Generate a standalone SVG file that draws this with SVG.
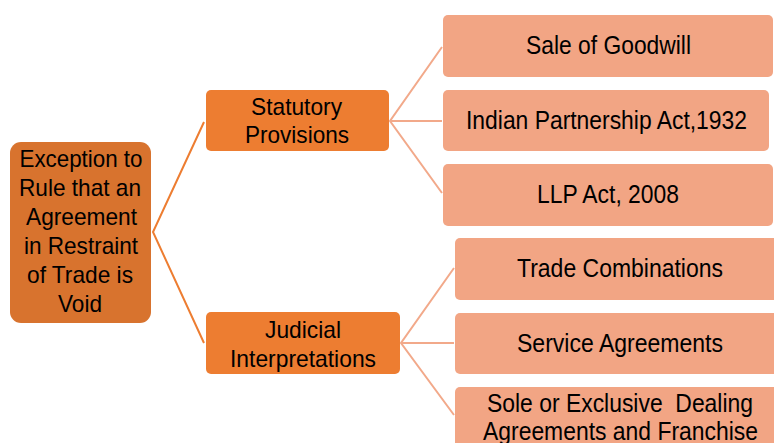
<svg xmlns="http://www.w3.org/2000/svg" width="774" height="443" viewBox="0 0 774 443">
<style>
text{font-family:"Liberation Sans",Arial,sans-serif;font-size:24px;fill:#000;text-anchor:middle}
.lt{font-size:25px}
.root{fill:#D8732E}
.mid{fill:#ED7D31}
.leaf{fill:#F2A584}
.c1{stroke:#ED7D31;stroke-width:2;fill:none}
.c2{stroke:#F2A98A;stroke-width:2;fill:none}
</style>
<rect width="774" height="443" fill="#fff"/>
<g id="connectors">
<polyline class="c1" points="204,122 153,232 204,343"/>
<polyline class="c2" points="442,47 390,121 442,193"/>
<line class="c2" x1="390" y1="121" x2="442" y2="121"/>
<polyline class="c2" points="454,268 401,343 454,415"/>
<line class="c2" x1="401" y1="343" x2="454" y2="343"/>
</g>
<g id="root">
<rect class="root" x="10" y="142" width="141" height="181" rx="11"/>
<text x="81" y="167.3" textLength="123" lengthAdjust="spacingAndGlyphs">Exception to</text>
<text x="80" y="196.2" textLength="122" lengthAdjust="spacingAndGlyphs">Rule that an</text>
<text x="81.5" y="225.1" textLength="111" lengthAdjust="spacingAndGlyphs">Agreement</text>
<text x="81" y="254" textLength="114" lengthAdjust="spacingAndGlyphs">in Restraint</text>
<text x="80" y="282.9" textLength="106" lengthAdjust="spacingAndGlyphs">of Trade is</text>
<text x="80" y="311.8" textLength="44" lengthAdjust="spacingAndGlyphs">Void</text>
</g>
<g id="statutory">
<rect class="mid" x="206" y="90" width="183" height="61" rx="5"/>
<text x="296.5" y="115" textLength="91" lengthAdjust="spacingAndGlyphs">Statutory</text>
<text x="297" y="143" textLength="104" lengthAdjust="spacingAndGlyphs">Provisions</text>
</g>
<g id="judicial">
<rect class="mid" x="206" y="312" width="194" height="62" rx="5"/>
<text x="303" y="338.3" textLength="76" lengthAdjust="spacingAndGlyphs">Judicial</text>
<text x="303" y="366.7" textLength="146" lengthAdjust="spacingAndGlyphs">Interpretations</text>
</g>
<g id="sale">
<rect class="leaf" x="443" y="15" width="330" height="62" rx="5"/>
<text class="lt" x="608.5" y="54" textLength="165" lengthAdjust="spacingAndGlyphs">Sale of Goodwill</text>
</g>
<g id="indian">
<rect class="leaf" x="443" y="90" width="326" height="61" rx="5"/>
<text class="lt" x="606.5" y="129.3" textLength="281" lengthAdjust="spacingAndGlyphs">Indian Partnership Act,1932</text>
</g>
<g id="llp">
<rect class="leaf" x="443" y="164" width="330" height="62" rx="5"/>
<text class="lt" x="608" y="203.3" textLength="142" lengthAdjust="spacingAndGlyphs">LLP Act, 2008</text>
</g>
<g id="trade">
<rect class="leaf" x="455" y="238" width="330" height="62" rx="5"/>
<text class="lt" x="620" y="277.3" textLength="206" lengthAdjust="spacingAndGlyphs">Trade Combinations</text>
</g>
<g id="service">
<rect class="leaf" x="455" y="313" width="330" height="61" rx="5"/>
<text class="lt" x="620" y="351.7" textLength="206" lengthAdjust="spacingAndGlyphs">Service Agreements</text>
</g>
<g id="sole">
<rect class="leaf" x="455" y="387" width="330" height="70" rx="5"/>
<text class="lt" x="620" y="411.7" textLength="266" lengthAdjust="spacingAndGlyphs" xml:space="preserve">Sole or Exclusive  Dealing</text>
<text class="lt" x="620.5" y="440" textLength="275" lengthAdjust="spacingAndGlyphs">Agreements and Franchise</text>
</g>
</svg>
